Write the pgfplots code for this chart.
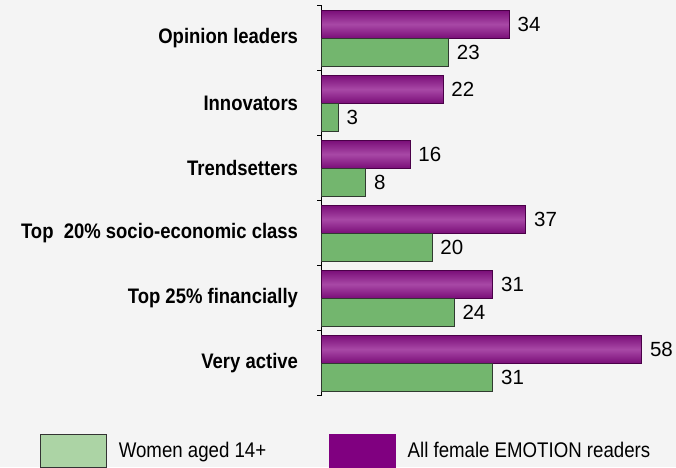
\documentclass[border=0pt]{standalone}
\usepackage{fontspec}
\setmainfont{Liberation Sans}
\newfontfamily\condfont{Liberation Sans}[FakeStretch=0.88]
\usepackage{pgfplots}
\pgfplotsset{compat=1.18}
\definecolor{bg}{HTML}{F4F4F4}
\definecolor{gfill}{RGB}{115,182,110}
\definecolor{gdraw}{HTML}{303A30}
\definecolor{pdark}{HTML}{7A0E78}
\definecolor{plight}{HTML}{A848A6}
\definecolor{pdraw}{HTML}{4A0048}
\definecolor{legG}{HTML}{ACD4A5}
\definecolor{legP}{HTML}{800080}
\pgfplotsset{pbar/.style={forget plot, bar shift=-0.215, draw=pdraw, line width=0.8pt,
  top color=pdark, bottom color=pdark, middle color=plight}}
\begin{document}
\begin{tikzpicture}
\path[use as bounding box, fill=bg] (0,0) rectangle (676pt,467pt);
\begin{axis}[
  at={(321.7pt,71.3pt)}, anchor=south west,
  scale only axis, width=331pt, height=390pt,
  xmin=0, xmax=60, ymin=-0.5, ymax=5.5, y dir=reverse,
  axis x line=none, axis y line=left,
  axis line style={-, black, line width=0.8pt},
  ytick={-0.5,0.5,...,5.5}, y tick label as interval,
  yticklabels={Opinion leaders, Innovators, Trendsetters, Top\ \ 20\% socio-economic class, Top 25\% financially, Very active},
  tick align=outside, major tick length=4.5pt,
  tick style={black, line width=0.8pt},
  yticklabel style={font=\condfont\fontsize{21}{25}\selectfont\bfseries, inner sep=0pt, xshift=-19pt},
  /pgf/number format/assume math mode=true,
  xbar, bar width=0.43,
  clip=false,
  nodes near coords,
  every node near coord/.append style={font=\fontsize{20.5}{24}\selectfont, inner sep=0pt, xshift=8pt, yshift=-0.5pt, black},
  legend image code/.code={\draw[#1] (0pt,-16.5pt) rectangle (66pt,16.5pt);},
  legend cell align=left,
  legend style={at={(-0.851,-0.098)}, anchor=north west, draw=none, fill=none,
    inner sep=0pt, outer sep=0pt, legend columns=2,
    nodes={inner sep=0pt},
    font=\condfont\fontsize{21.2}{25}\selectfont,
    /tikz/every even column/.append style={column sep=63pt},
    /tikz/every odd column/.append style={column sep=12pt}},
]
\addlegendimage{draw=black!80, fill=legG, line width=0.8pt}
\addlegendentry{Women aged 14+}
\addlegendimage{draw=legP, fill=legP}
\addlegendentry{All female EMOTION readers}
\addplot[pbar] coordinates {(34,0)};
\addplot[pbar] coordinates {(22,1)};
\addplot[pbar] coordinates {(16,2)};
\addplot[pbar] coordinates {(37,3)};
\addplot[pbar] coordinates {(31,4)};
\addplot[pbar] coordinates {(58,5)};
\addplot[forget plot, bar shift=0.215, draw=gdraw, line width=0.8pt, fill=gfill]
  coordinates {(23,0) (3,1) (8,2) (20,3) (24,4) (31,5)};
\end{axis}
\end{tikzpicture}
\end{document}
